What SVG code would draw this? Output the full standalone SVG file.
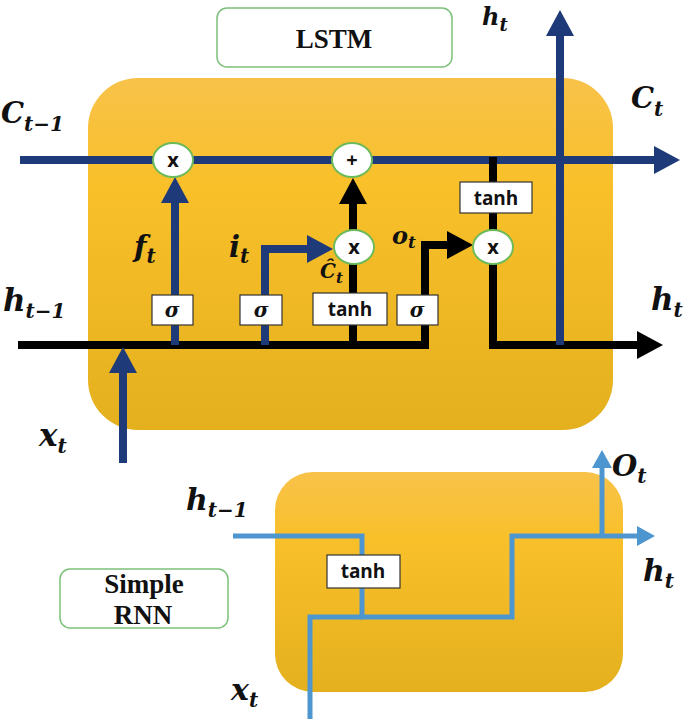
<svg xmlns="http://www.w3.org/2000/svg" width="685" height="719" viewBox="0 0 685 719">
<defs>
<linearGradient id="orange" x1="0" y1="0" x2="0" y2="1">
<stop offset="0" stop-color="#F8C24A"/>
<stop offset="0.3" stop-color="#F9C02A"/>
<stop offset="1" stop-color="#E4B01E"/>
</linearGradient>
<marker id="aNavy" markerUnits="userSpaceOnUse" viewBox="0 0 26 28" markerWidth="26" markerHeight="28" refX="6" refY="14" orient="auto"><path d="M0,0 L26,14 L0,28 z" fill="#1E3A78"/></marker>
<marker id="aBlack" markerUnits="userSpaceOnUse" viewBox="0 0 26 28" markerWidth="26" markerHeight="28" refX="6" refY="14" orient="auto"><path d="M0,0 L26,14 L0,28 z" fill="#000"/></marker>
<marker id="aBlue" markerUnits="userSpaceOnUse" viewBox="0 0 18 20" markerWidth="18" markerHeight="20" refX="4" refY="10" orient="auto"><path d="M0,0 L18,10 L0,20 z" fill="#4E96D0"/></marker>
<style>
.cell{fill:url(#orange)}
.label{fill:#fff;stroke:#7CC07A;stroke-width:1.5}
.title{font-family:"Liberation Serif",serif;font-weight:bold;font-size:27px;fill:#111;text-anchor:middle}
.navy{fill:none;stroke:#1E3A78;stroke-width:8}
.blk{fill:none;stroke:#000;stroke-width:8}
.blue{fill:none;stroke:#4E96D0;stroke-width:5}
.op{fill:#fff;stroke:#6DBA5A;stroke-width:2}
.opt{font-family:"Open Sans","DejaVu Sans",sans-serif;font-weight:bold;font-size:20px;text-anchor:middle;fill:#111}
.box{fill:#fff;stroke:#333;stroke-width:1.2}
.fn{font-family:"Open Sans","DejaVu Sans",sans-serif;font-weight:bold;font-size:19px;text-anchor:middle;fill:#111}
.sig{font-family:"DejaVu Serif",serif;font-weight:bold;font-style:italic;font-size:20px;text-anchor:middle;fill:#111}
.m{font-family:"DejaVu Serif",serif;font-weight:bold;font-style:italic;font-size:29px;fill:#111}
.s{font-size:20px}
</style>
</defs>

<g id="lstm-cell"><rect class="cell" x="88" y="78" width="525" height="352" rx="50"/></g>
<g id="rnn-cell"><rect class="cell" x="275" y="472" width="348" height="220" rx="38"/></g>

<g id="lstm-label"><rect class="label" x="217" y="8" width="235" height="59" rx="10"/><text class="title" x="334" y="48">LSTM</text></g>
<g id="rnn-label"><rect class="label" x="60" y="569" width="168" height="59" rx="10"/><text class="title" x="144" y="593">Simple</text><text class="title" x="143" y="624">RNN</text></g>

<g id="connectors">
<path class="navy" d="M20,160 H660" marker-end="url(#aNavy)"/>
<path class="blk" d="M18,345 H425 V245 H453" marker-end="url(#aBlack)"/>
<path class="blk" d="M353,345 V228"/>
<path class="blk" d="M353,230 V198" marker-end="url(#aBlack)"/>
<path class="blk" d="M493,157 V232"/>
<path class="blk" d="M493,262 V345 H643" marker-end="url(#aBlack)"/>
<path class="navy" d="M175,345 V197" marker-end="url(#aNavy)"/>
<path class="navy" d="M265,345 V249 H313" marker-end="url(#aNavy)"/>
<path class="navy" d="M123,463 V367" marker-end="url(#aNavy)"/>
<path class="navy" d="M560,345 V30" marker-end="url(#aNavy)"/>
<path class="blue" d="M233,536 H362 V617 H512 V536 H641" marker-end="url(#aBlue)"/>
<path class="blue" d="M310,719 V617 H362"/>
<path class="blue" d="M602,538 V464" marker-end="url(#aBlue)"/>
</g>

<g id="mul-f"><ellipse class="op" cx="173" cy="160" rx="20" ry="17"/><text class="opt" x="173" y="167">x</text></g>
<g id="add-c"><ellipse class="op" cx="352" cy="160" rx="20" ry="17"/><text class="opt" x="352" y="167">+</text></g>
<g id="mul-i"><ellipse class="op" cx="354" cy="247" rx="20" ry="17"/><text class="opt" x="354" y="254">x</text></g>
<g id="mul-o"><ellipse class="op" cx="493" cy="247" rx="20" ry="17"/><text class="opt" x="493" y="254">x</text></g>

<g id="sigma-f"><rect class="box" x="152" y="295" width="41" height="30"/><text class="sig" x="172" y="317">σ</text></g>
<g id="sigma-i"><rect class="box" x="240" y="295" width="42" height="30"/><text class="sig" x="261" y="317">σ</text></g>
<g id="tanh-c"><rect class="box" x="313" y="293" width="74" height="32"/><text class="fn" x="350" y="316">tanh</text></g>
<g id="sigma-o"><rect class="box" x="397" y="295" width="41" height="30"/><text class="sig" x="417" y="317">σ</text></g>
<g id="tanh-h"><rect class="box" x="460" y="182" width="72" height="31"/><text class="fn" x="496" y="205">tanh</text></g>
<g id="tanh-rnn"><rect class="box" x="327" y="555" width="73" height="33"/><text class="fn" x="363" y="578">tanh</text></g>

<g id="labels">
<text class="m" x="1" y="123">C<tspan class="s" dy="8">t−1</tspan></text>
<text class="m" x="631" y="108">C<tspan class="s" dy="8">t</tspan></text>
<text class="m" x="482" y="25" style="font-size:24px">h<tspan style="font-size:18px" dy="6">t</tspan></text>
<text class="m" x="134" y="257">f<tspan class="s" dy="6">t</tspan></text>
<text class="m" x="229" y="257">i<tspan class="s" dy="6">t</tspan></text>
<text class="m" x="320" y="278" style="font-size:20px">Ĉ<tspan style="font-size:15px" dy="5">t</tspan></text>
<text class="m" x="392" y="244" style="font-size:24px">o<tspan style="font-size:17px" dy="4">t</tspan></text>
<text class="m" x="3" y="311" style="font-size:31px">h<tspan class="s" dy="7">t−1</tspan></text>
<text class="m" x="651" y="310" style="font-size:31px">h<tspan class="s" dy="7">t</tspan></text>
<text class="m" x="39" y="446" style="font-size:31px">x<tspan class="s" dy="7">t</tspan></text>
<text class="m" x="186" y="510" style="font-size:30px">h<tspan class="s" dy="7">t−1</tspan></text>
<text class="m" x="612" y="476">O<tspan class="s" dy="7">t</tspan></text>
<text class="m" x="643" y="581" style="font-size:30px">h<tspan class="s" dy="7">t</tspan></text>
<text class="m" x="231" y="700" style="font-size:30px">x<tspan class="s" dy="7">t</tspan></text>
</g>
</svg>
